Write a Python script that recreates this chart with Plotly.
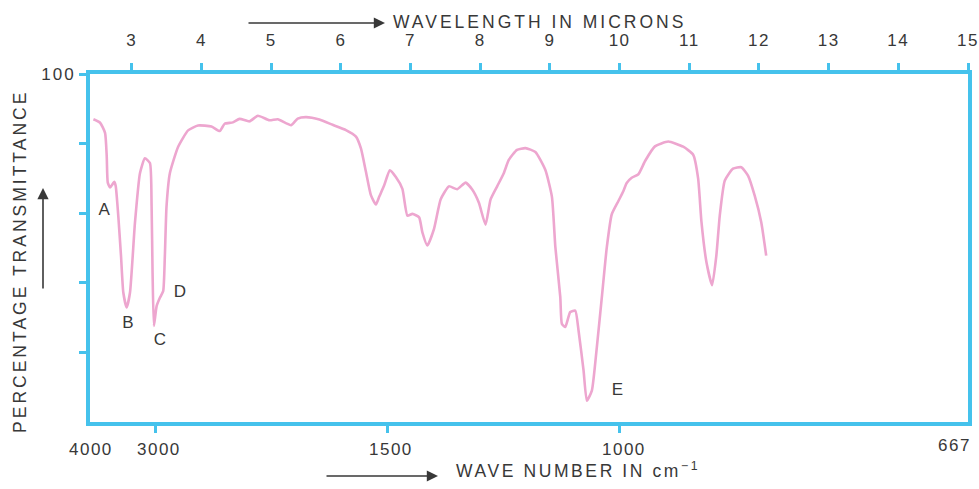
import plotly.graph_objects as go

# Infrared spectrum: transmittance (%) against wavelength (microns)
WAVELENGTH_UM = [
    2.449, 2.545, 2.616, 2.640, 2.655, 2.688, 2.749, 2.769, 2.806, 2.845,
    2.878, 2.926, 2.974, 3.045, 3.117, 3.188, 3.260, 3.284, 3.298, 3.317,
    3.356, 3.403, 3.450, 3.474, 3.498, 3.546, 3.665, 3.808, 3.951, 4.143,
    4.261, 4.333, 4.451, 4.547, 4.690, 4.809, 4.976, 5.095, 5.287, 5.381,
    5.501, 5.692, 5.882, 6.073, 6.217, 6.288, 6.360, 6.431, 6.503, 6.550,
    6.622, 6.703, 6.789, 6.883, 6.955, 7.027, 7.123, 7.170, 7.241, 7.337,
    7.433, 7.551, 7.670, 7.790, 7.885, 7.981, 8.076, 8.148, 8.243, 8.338,
    8.410, 8.528, 8.649, 8.792, 8.935, 9.029, 9.078, 9.149, 9.172, 9.221,
    9.292, 9.364, 9.411, 9.483, 9.530, 9.602, 9.673, 9.745, 9.816, 9.888,
    9.983, 10.055, 10.102, 10.174, 10.270, 10.366, 10.507, 10.698, 10.913, 11.056,
    11.127, 11.175, 11.246, 11.328, 11.389, 11.438, 11.510, 11.628, 11.747, 11.843,
    11.938, 12.033, 12.104,
]
TRANSMITTANCE = [
    87.0, 86.0, 83.1, 76.4, 68.8, 67.4, 69.0, 67.8, 59.2, 47.7,
    37.2, 32.9, 37.2, 57.2, 71.5, 75.8, 74.4, 62.0, 42.9, 27.6,
    33.3, 35.7, 37.6, 47.6, 61.9, 71.5, 79.1, 83.8, 85.2, 84.9,
    83.6, 85.7, 86.1, 87.1, 86.4, 88.0, 86.7, 87.0, 85.3, 87.2,
    87.6, 86.9, 85.4, 83.9, 82.0, 78.6, 71.9, 65.2, 62.5, 64.7,
    68.0, 72.3, 70.4, 67.0, 59.3, 59.8, 58.8, 54.5, 50.7, 55.5,
    64.0, 67.7, 66.9, 68.8, 66.8, 63.0, 56.7, 63.9, 67.7, 71.5,
    75.3, 78.2, 78.7, 77.6, 72.4, 64.7, 50.3, 35.9, 28.2, 27.3,
    31.6, 32.0, 26.3, 14.8, 6.1, 9.0, 21.4, 35.8, 50.1, 59.7,
    63.5, 66.4, 68.7, 70.2, 71.2, 75.0, 79.2, 80.6, 79.1, 76.8,
    70.0, 57.5, 46.0, 39.3, 47.9, 59.4, 69.4, 72.8, 73.2, 70.8,
    65.1, 57.4, 47.8,
]

# Band labels
BAND_LETTERS = ["A", "B", "C", "D", "E"]
BAND_UM = [2.603, 2.945, 3.403, 3.689, 9.968]
BAND_T = [60.7, 28.3, 23.3, 37.2, 8.9]

# Axis scales
MICRON_TICKS = [3, 4, 5, 6, 7, 8, 9, 10, 11, 12, 13, 14, 15]
WAVENUMBER_TICKS = [4000, 3000, 1500, 1000, 667]
T_TICKS = [20, 40, 60, 80, 100]
T_TICK_TEXT = ["", "", "", "", "100"]

FRAME = "#45c2ec"
CURVE = "#eda6cf"
INK = "#383838"
FONT = "Liberation Sans, Arial, sans-serif"


def spaced(s, px=2.5):
    if not s:
        return ""
    return f'<span style="letter-spacing:{px}px">{s}</span>'


fig = go.Figure()

fig.add_trace(go.Scatter(
    x=WAVELENGTH_UM, y=TRANSMITTANCE, mode="lines",
    line=dict(color=CURVE, width=2.6, shape="spline", smoothing=0.5),
    hoverinfo="skip", showlegend=False,
))

fig.add_trace(go.Scatter(
    x=BAND_UM, y=BAND_T, mode="text", text=BAND_LETTERS,
    textfont=dict(family=FONT, size=17, color=INK),
    xaxis="x2", hoverinfo="skip", showlegend=False, cliponaxis=False,
))

axis_common = dict(
    showline=True, linecolor=FRAME, linewidth=4,
    ticks="outside", ticklen=7, tickwidth=2.5, tickcolor=FRAME,
    showgrid=False, zeroline=False, automargin=False,
    tickfont=dict(family=FONT, size=17, color=INK),
)

fig.update_layout(
    template="none",
    width=979, height=489,
    margin=dict(l=90, r=11, t=74, b=67, autoexpand=False),
    paper_bgcolor="white", plot_bgcolor="white",
    xaxis=dict(
        range=[2.4, 15.0],
        # interior wavenumber ticks only; the end values sit on the frame corners
        tickvals=[1e4 / w for w in WAVENUMBER_TICKS[1:-1]],
        showticklabels=False, mirror=True,
        **axis_common,
    ),
    xaxis2=dict(
        range=[2.4, 15.0], overlaying="x", side="top", matches="x",
        tickvals=MICRON_TICKS,
        ticktext=[spaced(str(m), 1.5) for m in MICRON_TICKS],
        ticklabelstandoff=10, ticklabeloverflow="allow",
        **axis_common,
    ),
    yaxis=dict(
        range=[0, 100], tickvals=T_TICKS,
        ticktext=[spaced(t, 2) for t in T_TICK_TEXT],
        mirror=True, ticklabelstandoff=0,
        **axis_common,
    ),
)

# Wavenumber labels along the bottom edge
for i, wn in enumerate(WAVENUMBER_TICKS):
    last = i == len(WAVENUMBER_TICKS) - 1
    fig.add_annotation(
        x=1e4 / wn, y=0, xref="x", yref="y",
        text=spaced(str(wn), 1.5), showarrow=False,
        xanchor="right" if last else "center", yanchor="top",
        xshift=6 if last else (-6 if i == 0 else 4),
        yshift=-12 if last else -16,
        font=dict(family=FONT, size=17, color=INK),
    )

title_font = dict(family=FONT, size=17.5, color=INK)
title_common = dict(xref="paper", yref="paper", showarrow=False,
                    xanchor="center", yanchor="middle", font=title_font)
arrow_common = dict(xref="paper", yref="paper", text="", showarrow=True,
                    arrowhead=2, arrowsize=1.4, arrowwidth=1.6, arrowcolor=INK)

# Axis titles with direction arrows
fig.add_annotation(x=0.5125, y=1.149,
                   text=spaced("WAVELENGTH IN MICRONS", 3), **title_common)
fig.add_annotation(x=(385 - 90) / 878, y=(422 - 23) / 348, ax=-138, ay=0,
                   **arrow_common)
fig.add_annotation(x=0.556, y=(422 - 470) / 348,
                   text=spaced("WAVE NUMBER IN cm<sup>−1</sup>", 2.6),
                   **title_common)
fig.add_annotation(x=(438 - 90) / 878, y=(422 - 476) / 348, ax=-113, ay=0,
                   **arrow_common)
fig.add_annotation(x=(20 - 90) / 878, y=0.46, textangle=-90,
                   text=spaced("PERCENTAGE TRANSMITTANCE", 3), **title_common)
fig.add_annotation(x=(43 - 90) / 878, y=(422 - 188) / 348, ax=0, ay=102,
                   **arrow_common)

fig.write_html("out.html")
